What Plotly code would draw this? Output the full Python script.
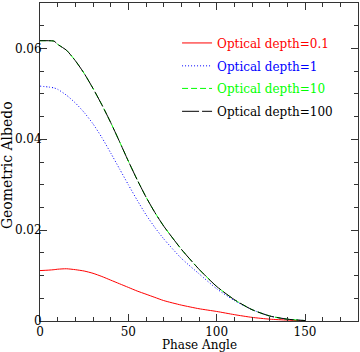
import plotly.graph_objects as go

angles = [0, 5, 8, 10, 15, 20, 25, 30, 35, 40, 45, 50, 55, 60, 65, 70, 80, 90, 100, 110, 120, 130, 140, 150]

albedo_tau_0_1 = [0.0111, 0.0112, 0.0113, 0.0114, 0.0115, 0.0113, 0.0110, 0.0105, 0.0098, 0.0090, 0.0082,
                  0.0074, 0.0066, 0.0059, 0.0052, 0.0045, 0.0035, 0.0027, 0.0021, 0.0014, 0.0008, 0.0004,
                  0.0002, 0.0000]
albedo_tau_1 = [0.0517, 0.0515, 0.0513, 0.0510, 0.0497, 0.0480, 0.0459, 0.0434, 0.0404, 0.0370, 0.0335,
                0.0300, 0.0266, 0.0234, 0.0206, 0.0181, 0.0138, 0.0104, 0.0071, 0.0045, 0.0025, 0.0011,
                0.0004, 0.0001]
albedo_tau_10 = [0.0617, 0.0617, 0.0616, 0.0609, 0.0596, 0.0573, 0.0545, 0.0512, 0.0476, 0.0437, 0.0395,
                 0.0352, 0.0311, 0.0273, 0.0239, 0.0209, 0.0158, 0.0114, 0.0076, 0.0047, 0.0025, 0.0011,
                 0.0004, 0.0001]
albedo_tau_100 = [0.0617, 0.0617, 0.0616, 0.0609, 0.0596, 0.0573, 0.0545, 0.0512, 0.0476, 0.0437, 0.0395,
                  0.0352, 0.0311, 0.0273, 0.0239, 0.0209, 0.0158, 0.0114, 0.0076, 0.0047, 0.0025, 0.0011,
                  0.0004, 0.0001]

labels = ["Optical depth=0.1", "Optical depth=1", "Optical depth=10", "Optical depth=100"]
colors = ["#ff0000", "#0000ff", "#00ff00", "#000000"]
dashes = ["solid", "1px,2px", "6px,3px", "17px,3px"]
series = [albedo_tau_0_1, albedo_tau_1, albedo_tau_10, albedo_tau_100]
x_title = "Phase Angle"
y_title = "Geometric Albedo"

FONT = "DejaVu Serif"
legend_names = ["legend", "legend2", "legend3", "legend4"]
legend_y = [0.920, 0.848, 0.777, 0.705]

fig = go.Figure()
for lab, col, dsh, ys, lg in zip(labels, colors, dashes, series, legend_names):
    fig.add_trace(go.Scatter(
        x=angles, y=ys, mode="lines", name=lab, legend=lg,
        line=dict(color=col, width=1, dash=dsh, shape="spline", smoothing=0.6),
    ))

axis_common = dict(
    showline=True, linecolor="#333333", linewidth=1, mirror="ticks",
    ticks="inside", ticklen=7, tickwidth=1, tickcolor="#333333",
    showgrid=False, zeroline=False,
    tickfont=dict(family=FONT, size=12, color="black"),
)

fig.update_xaxes(
    range=[0, 180], dtick=50, tick0=0,
    minor=dict(dtick=10, ticks="inside", ticklen=4, tickcolor="#333333", showgrid=False),
    **axis_common,
)
fig.update_yaxes(
    range=[0, 0.07],
    tickvals=[0, 0.02, 0.04, 0.06], ticktext=["0", "0.02", "0.04", "0.06"],
    minor=dict(dtick=0.005, ticks="inside", ticklen=4, tickcolor="#333333", showgrid=False),
    ticklabelstandoff=-5,
    **axis_common,
)

layout_legends = {}
for lg, col, ly in zip(legend_names, colors, legend_y):
    layout_legends[lg] = dict(
        x=0.431, y=ly, xanchor="left", yanchor="top",
        bgcolor="rgba(0,0,0,0)", borderwidth=0,
        font=dict(family=FONT, size=12, color=col),
    )

fig.update_layout(
    width=360, height=352,
    font=dict(family=FONT, size=12, color="black"),
    margin=dict(l=40, r=2, t=3, b=31, autoexpand=False),
    paper_bgcolor="white", plot_bgcolor="white",
    showlegend=True,
    annotations=[
        dict(text=x_title, xref="paper", yref="paper", x=0.5, y=-0.0755,
             xanchor="center", yanchor="middle", showarrow=False,
             font=dict(family=FONT, size=12, color="black")),
        dict(text=y_title, xref="paper", yref="paper", x=-0.104, y=0.49,
             xanchor="center", yanchor="middle", showarrow=False, textangle=-90,
             font=dict(family=FONT, size=14, color="black")),
    ],
    **layout_legends,
)

fig.write_html(
    "out.html",
    config={"displayModeBar": False},
    post_script="document.body.style.margin='0';document.body.style.overflow='hidden';",
)
